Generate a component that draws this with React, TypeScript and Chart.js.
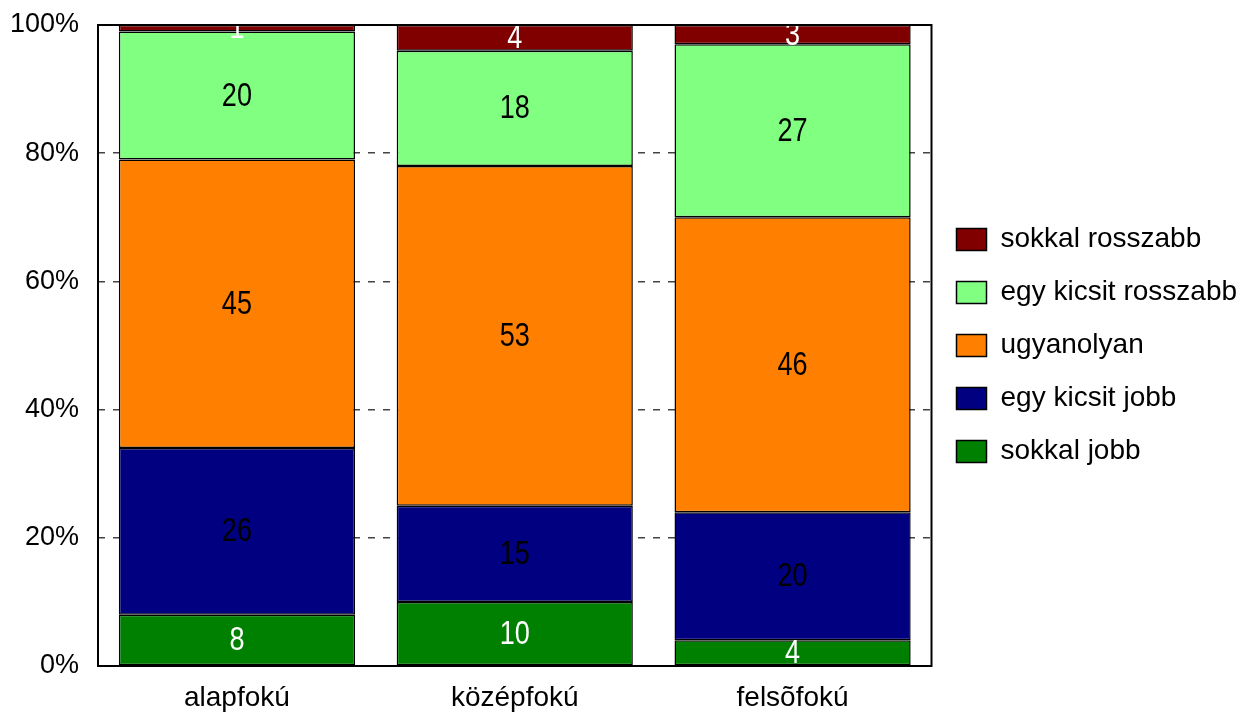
import React, { useEffect, useRef } from 'react';
import { Chart, registerables, Plugin } from 'chart.js';

Chart.register(...registerables);

const FONT = "'Liberation Sans', Arial, sans-serif";

const categories = ['alapfokú', 'középfokú', 'felsõfokú'];
const seriesNames = ['sokkal jobb', 'egy kicsit jobb', 'ugyanolyan', 'egy kicsit rosszabb', 'sokkal rosszabb'];
const sokkalJobb = [8, 10, 4];
const egyKicsitJobb = [26, 15, 20];
const ugyanolyan = [45, 53, 46];
const egyKicsitRosszabb = [20, 18, 27];
const sokkalRosszabb = [1, 4, 3];
const seriesColors = ['#008000', '#000080', '#FF8000', '#80FF80', '#800000'];
const labelColors = ['#ffffff', '#000000', '#000000', '#000000', '#ffffff'];
const yTicks = [0, 20, 40, 60, 80, 100];

// értékcímkék a sávok közepére (keskenyített betű)
const valueLabels: Plugin<'bar'> = {
    id: 'valueLabels',
    afterDatasetsDraw(chart) {
        const { ctx, chartArea } = chart;
        ctx.save();
        ctx.beginPath();
        ctx.rect(chartArea.left, chartArea.top, chartArea.right - chartArea.left, chartArea.bottom - chartArea.top);
        ctx.clip();
        ctx.font = `33px ${FONT}`;
        ctx.textAlign = 'center';
        ctx.textBaseline = 'middle';
        chart.data.datasets.forEach((ds, i) => {
            const meta = chart.getDatasetMeta(i);
            meta.data.forEach((bar: any, j) => {
                const p = bar.getProps(['x', 'y', 'base'], true);
                ctx.fillStyle = labelColors[i];
                ctx.save();
                ctx.translate(p.x, (p.y + p.base) / 2 + 1);
                ctx.scale(0.82, 1);
                ctx.fillText(String(ds.data[j]), 0, 0);
                ctx.restore();
            });
        });
        ctx.restore();
    },
};

// keret a rajzterület körül
const frame: Plugin<'bar'> = {
    id: 'frame',
    afterDatasetsDraw(chart) {
        const { ctx, chartArea } = chart;
        ctx.save();
        ctx.strokeStyle = '#000';
        ctx.lineWidth = 2;
        ctx.strokeRect(chartArea.left, chartArea.top, chartArea.right - chartArea.left, chartArea.bottom - chartArea.top);
        ctx.restore();
    },
};

const App: React.FC = () => {
    const chartRef = useRef<HTMLCanvasElement | null>(null);

    useEffect(() => {
        document.body.style.margin = '0';
        if (!chartRef.current) return;
        const values = [sokkalJobb, egyKicsitJobb, ugyanolyan, egyKicsitRosszabb, sokkalRosszabb];
        const chart = new Chart(chartRef.current, {
            type: 'bar',
            data: {
                labels: categories,
                datasets: seriesNames.map((name, i) => ({
                    label: name,
                    data: values[i],
                    backgroundColor: seriesColors[i],
                    borderColor: '#000',
                    borderWidth: 1.5,
                    borderSkipped: false,
                    barPercentage: 0.85,
                    categoryPercentage: 1,
                })),
            },
            options: {
                animation: false,
                responsive: true,
                maintainAspectRatio: false,
                layout: { padding: { top: 25, right: 11, bottom: 0, left: 0 } },
                plugins: {
                    tooltip: { enabled: false },
                    legend: {
                        position: 'right',
                        fullSize: false,
                        reverse: true,
                        labels: {
                            color: '#000',
                            font: { family: FONT, size: 28 },
                            boxWidth: 30,
                            boxHeight: 22,
                            padding: 25,
                        },
                    },
                },
                scales: {
                    x: {
                        stacked: true,
                        grid: { display: false, drawTicks: false },
                        border: { display: false },
                        ticks: { color: '#000', font: { family: FONT, size: 28 }, padding: 15 },
                        afterFit: (scale) => { scale.height = 51; },
                    },
                    y: {
                        stacked: true,
                        min: 0,
                        max: 100,
                        afterBuildTicks: (scale) => { scale.ticks = yTicks.map((v) => ({ value: v })); },
                        grid: {
                            drawTicks: false,
                            color: (c) => (c.tick && c.tick.value > 0 && c.tick.value < 100 ? '#444' : 'rgba(0,0,0,0)'),
                            lineWidth: 1.5,
                        },
                        border: { display: false, dash: [7, 8] },
                        ticks: {
                            color: '#000',
                            font: { family: FONT, size: 27 },
                            padding: 19,
                            callback: (v) => `${v}%`,
                        },
                        afterFit: (scale: any) => {
                            scale.width = 98;
                            scale.paddingTop = 0;
                            scale.paddingBottom = 0;
                        },
                    },
                },
            },
            plugins: [valueLabels, frame],
        });
        return () => chart.destroy();
    }, []);

    return (
        <div style={{ position: 'absolute', left: 0, top: 0, width: 1253, height: 717, background: '#fff' }}>
            <canvas ref={chartRef}></canvas>
        </div>
    );
};

export default App;
